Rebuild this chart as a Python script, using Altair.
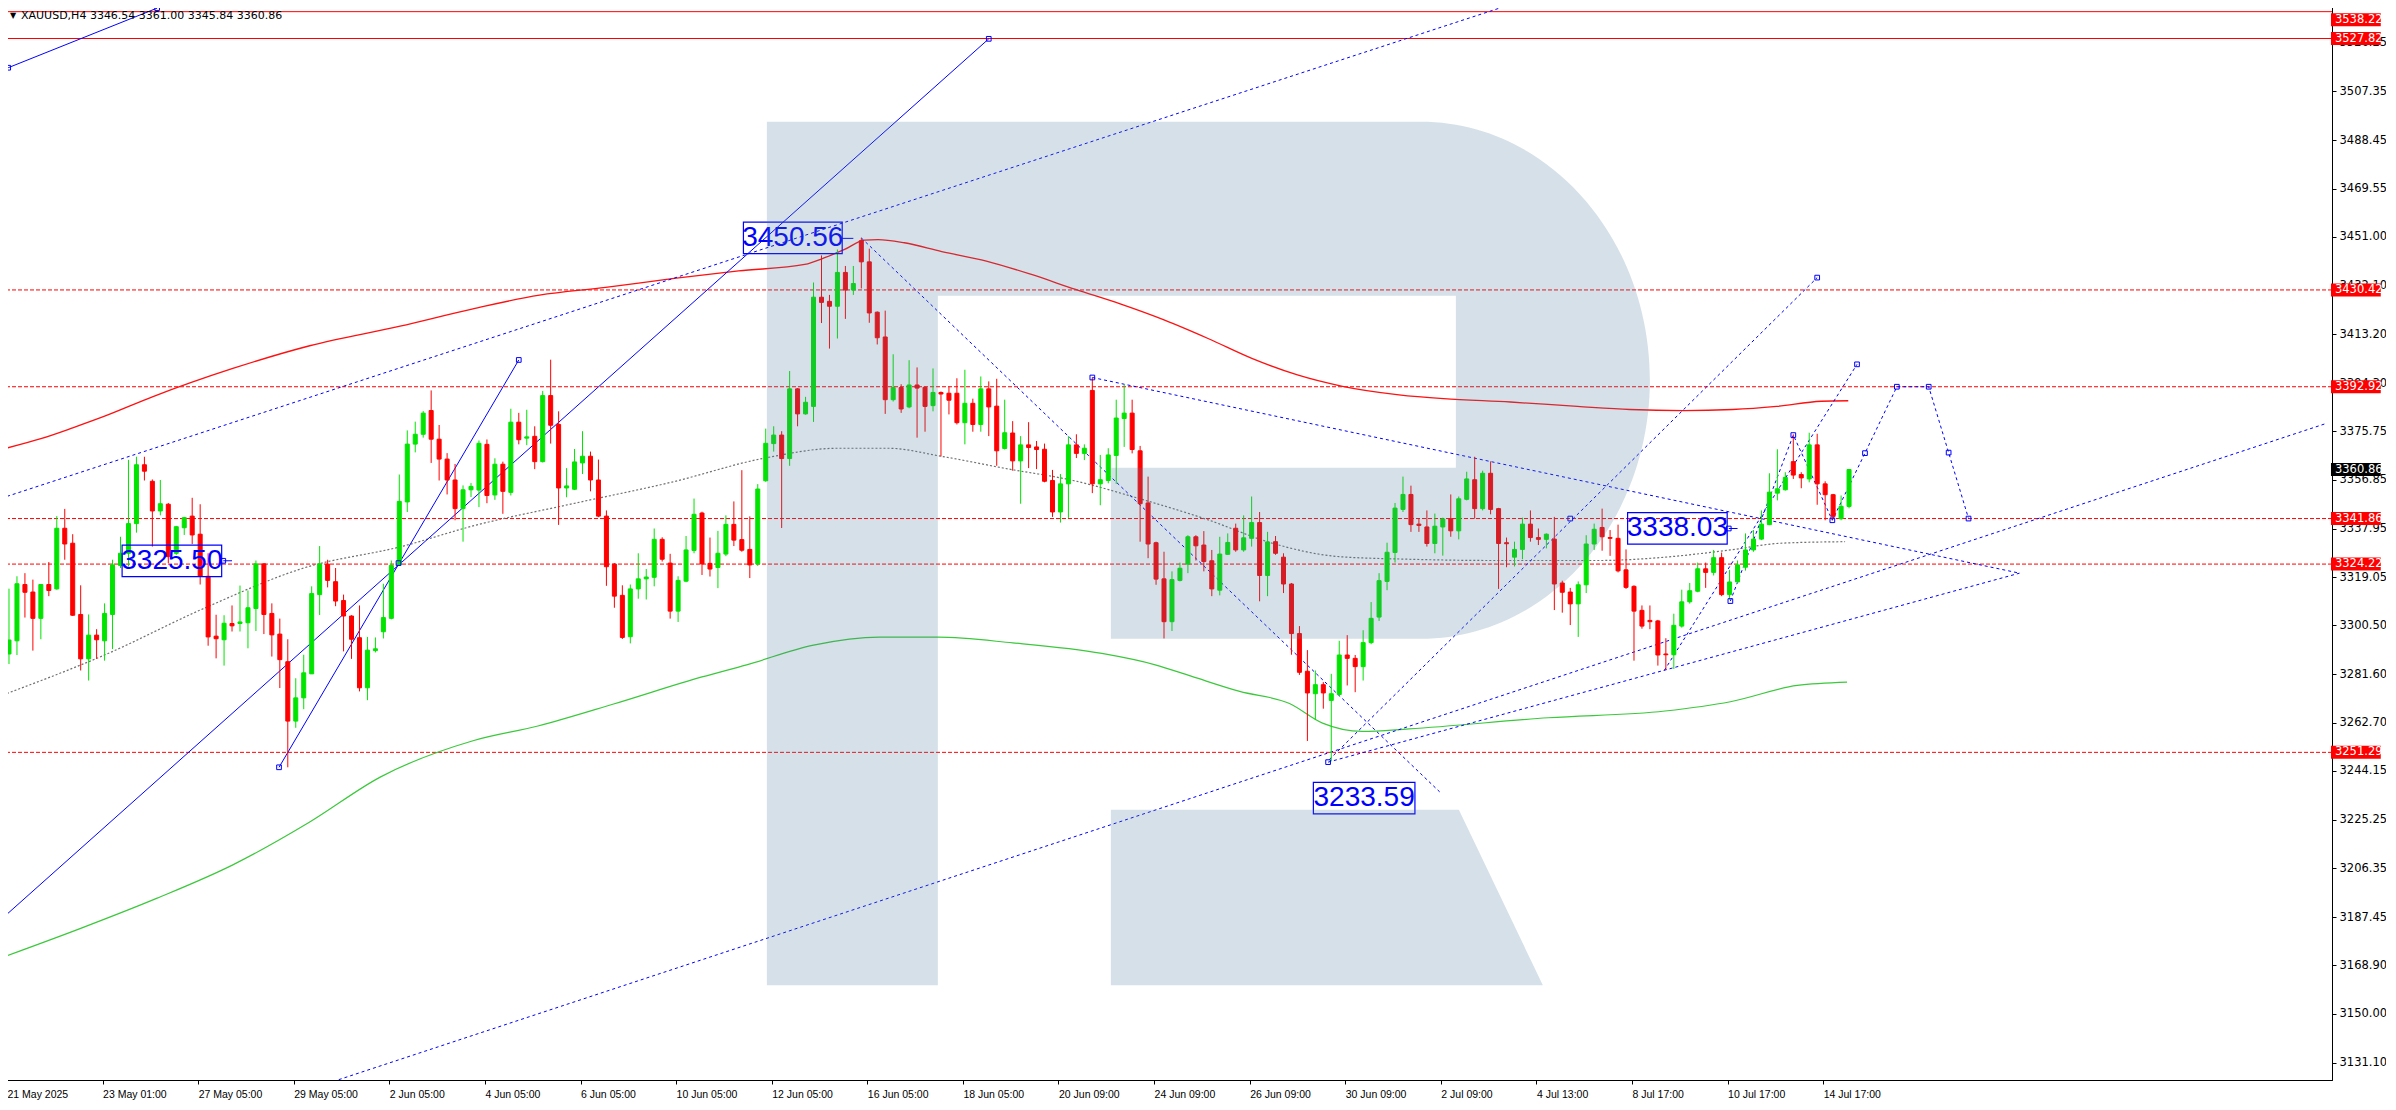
import altair as alt
import pandas as pd

# ---------------- candles: XAUUSD H4 ----------------
opens = [3289.4, 3294.5, 3316.3, 3313.4, 3303.2, 3316.3, 3314.6, 3338.1, 3332.3, 3304.7,
         3287.5, 3296.7, 3294.5, 3304.7, 3323.7, 3328.4, 3339.9, 3362.7, 3356.3, 3344.8,
         3347.4, 3328.4, 3338.3, 3342.8, 3335.8, 3319.5, 3296.3, 3294.9, 3301.2, 3301.2,
         3301.5, 3307.0, 3324.3, 3305.1, 3297.1, 3286.4, 3263.4, 3272.4, 3281.7, 3312.4,
         3324.2, 3317.4, 3310.1, 3304.1, 3295.7, 3276.3, 3290.7, 3298.0, 3303.2, 3323.9,
         3348.3, 3370.7, 3374.5, 3383.7, 3372.6, 3364.9, 3356.8, 3345.7, 3353.0, 3352.9,
         3370.6, 3351.0, 3362.9, 3352.0, 3379.2, 3373.0, 3373.7, 3363.9, 3389.5, 3378.3,
         3353.7, 3353.2, 3363.4, 3366.0, 3356.8, 3342.8, 3324.2, 3312.1, 3296.1, 3314.6,
         3318.5, 3319.1, 3333.8, 3324.6, 3306.0, 3317.6, 3329.5, 3344.0, 3324.5, 3322.9,
         3328.1, 3339.6, 3333.7, 3329.9, 3324.3, 3356.5, 3370.9, 3374.2, 3365.1, 3392.1,
         3382.4, 3385.3, 3427.6, 3426.0, 3424.1, 3437.2, 3430.4, 3449.5, 3441.3, 3421.8,
         3412.2, 3387.9, 3392.6, 3385.1, 3393.6, 3392.7, 3385.6, 3390.7, 3390.4, 3390.4,
         3379.0, 3386.5, 3378.3, 3392.1, 3385.4, 3369.0, 3375.0, 3364.2, 3370.4, 3369.6,
         3368.7, 3356.6, 3344.4, 3355.3, 3370.4, 3367.1, 3391.5, 3355.3, 3356.6, 3366.3,
         3380.6, 3382.7, 3368.1, 3347.9, 3332.5, 3318.5, 3301.9, 3317.9, 3324.2, 3334.8,
         3331.6, 3325.5, 3314.1, 3328.0, 3338.1, 3329.7, 3334.2, 3340.3, 3319.8, 3332.9,
         3326.9, 3316.5, 3297.3, 3282.7, 3274.0, 3277.5, 3271.4, 3273.7, 3289.0, 3287.7,
         3284.5, 3293.8, 3303.7, 3317.5, 3328.7, 3345.4, 3351.2, 3339.7, 3338.6, 3332.2,
         3338.6, 3341.8, 3337.1, 3349.3, 3356.9, 3345.7, 3359.4, 3345.7, 3332.5, 3326.9,
         3329.9, 3339.7, 3334.5, 3333.8, 3333.9, 3316.9, 3313.4, 3308.8, 3316.2, 3332.0,
         3338.4, 3334.5, 3334.2, 3322.0, 3315.6, 3306.3, 3302.4, 3302.2, 3289.4, 3289.1,
         3300.2, 3309.6, 3313.7, 3322.4, 3321.0, 3326.7, 3312.4, 3317.3, 3323.0, 3329.7,
         3333.9, 3339.5, 3351.7, 3353.0, 3363.9, 3358.9, 3357.2, 3370.4, 3355.3, 3351.1,
         3341.8, 3346.54]
highs = [3314.7, 3319.5, 3320.7, 3318.2, 3316.5, 3325.0, 3342.8, 3345.6, 3335.8, 3316.0,
         3304.7, 3299.0, 3309.0, 3325.9, 3334.8, 3364.6, 3365.8, 3365.8, 3357.0, 3356.8,
         3347.9, 3339.0, 3342.5, 3349.9, 3347.4, 3328.4, 3304.6, 3304.4, 3308.2, 3315.9,
         3314.0, 3325.6, 3324.6, 3309.0, 3303.1, 3295.1, 3280.0, 3289.1, 3315.6, 3331.2,
         3325.9, 3322.7, 3312.4, 3304.4, 3308.2, 3296.0, 3295.8, 3316.6, 3325.6, 3358.9,
         3376.0, 3379.4, 3383.5, 3391.5, 3378.1, 3367.2, 3363.0, 3354.7, 3355.6, 3372.1,
         3372.5, 3365.2, 3363.9, 3384.4, 3382.8, 3384.0, 3377.6, 3391.3, 3403.4, 3383.4,
         3361.4, 3368.8, 3375.7, 3367.8, 3364.7, 3345.0, 3324.6, 3316.0, 3316.3, 3328.4,
         3322.3, 3338.0, 3334.6, 3328.2, 3319.5, 3335.1, 3349.6, 3344.5, 3334.5, 3337.1,
         3343.1, 3348.5, 3360.6, 3342.7, 3355.2, 3376.7, 3377.6, 3375.7, 3399.0, 3392.4,
         3389.0, 3433.3, 3443.8, 3428.5, 3446.1, 3439.7, 3439.7, 3450.6, 3446.4, 3422.1,
         3422.4, 3405.5, 3393.9, 3403.2, 3400.4, 3393.0, 3400.0, 3391.1, 3393.0, 3396.2,
         3399.5, 3388.3, 3396.9, 3395.0, 3396.0, 3387.9, 3379.6, 3373.8, 3379.2, 3371.9,
         3370.9, 3360.7, 3359.1, 3373.8, 3374.5, 3370.6, 3396.5, 3366.5, 3369.1, 3387.9,
         3393.7, 3387.9, 3370.0, 3358.1, 3332.9, 3329.0, 3321.4, 3324.8, 3335.4, 3335.4,
         3337.0, 3329.7, 3334.8, 3336.1, 3339.9, 3343.1, 3350.4, 3344.4, 3336.7, 3335.1,
         3328.4, 3316.9, 3300.2, 3290.9, 3283.0, 3278.5, 3281.7, 3294.5, 3296.7, 3289.0,
         3298.6, 3309.5, 3320.7, 3332.5, 3347.9, 3358.1, 3354.6, 3341.8, 3345.0, 3343.8,
         3342.2, 3351.2, 3350.4, 3360.0, 3365.8, 3360.4, 3364.0, 3346.0, 3334.5, 3332.9,
         3342.2, 3345.0, 3338.0, 3336.1, 3342.5, 3317.8, 3315.0, 3317.5, 3335.4, 3339.9,
         3345.7, 3337.4, 3339.5, 3329.9, 3316.0, 3308.2, 3308.2, 3302.6, 3295.5, 3305.0,
         3314.3, 3316.9, 3324.8, 3324.8, 3329.7, 3328.7, 3322.0, 3325.6, 3336.1, 3337.4,
         3345.0, 3359.4, 3368.7, 3359.8, 3374.5, 3359.8, 3375.1, 3374.7, 3356.3, 3351.4,
         3350.8, 3361.00]
lows = [3285.5, 3289.0, 3303.5, 3290.7, 3295.1, 3311.8, 3314.3, 3325.9, 3304.1, 3283.0,
        3279.1, 3287.5, 3286.8, 3291.3, 3322.7, 3323.3, 3336.4, 3356.6, 3331.0, 3343.1,
        3324.6, 3327.8, 3335.5, 3332.0, 3316.3, 3292.6, 3287.7, 3284.9, 3298.1, 3298.1,
        3291.6, 3298.3, 3297.1, 3288.4, 3276.2, 3245.5, 3260.8, 3268.0, 3281.7, 3304.5,
        3315.2, 3307.9, 3290.4, 3287.5, 3274.9, 3271.5, 3290.0, 3295.4, 3302.8, 3323.7,
        3344.4, 3367.5, 3373.2, 3363.4, 3356.6, 3351.2, 3341.2, 3332.9, 3350.2, 3346.3,
        3347.8, 3349.1, 3343.7, 3350.8, 3370.6, 3370.3, 3361.0, 3363.6, 3370.9, 3339.4,
        3350.1, 3352.9, 3359.1, 3352.4, 3342.4, 3315.8, 3307.3, 3295.2, 3293.5, 3310.8,
        3310.5, 3315.6, 3325.2, 3303.1, 3301.8, 3317.2, 3328.4, 3320.0, 3319.4, 3314.9,
        3327.3, 3331.2, 3329.0, 3318.8, 3323.5, 3356.1, 3367.8, 3338.2, 3362.3, 3377.6,
        3382.1, 3379.3, 3417.6, 3407.7, 3411.6, 3419.2, 3428.5, 3431.0, 3417.7, 3409.3,
        3382.4, 3387.2, 3382.8, 3384.6, 3373.2, 3375.5, 3383.4, 3365.9, 3382.2, 3378.3,
        3370.6, 3375.5, 3375.5, 3373.8, 3362.3, 3368.6, 3360.4, 3347.6, 3361.4, 3361.0,
        3355.9, 3342.5, 3340.3, 3342.1, 3365.3, 3364.5, 3351.7, 3347.0, 3355.5, 3355.3,
        3369.6, 3367.1, 3332.9, 3326.5, 3316.2, 3295.4, 3298.3, 3317.5, 3320.7, 3325.6,
        3321.4, 3311.8, 3312.1, 3327.8, 3329.0, 3329.0, 3331.0, 3309.8, 3311.8, 3327.8,
        3313.0, 3289.1, 3281.3, 3255.7, 3263.8, 3268.2, 3247.8, 3273.3, 3277.2, 3274.6,
        3279.1, 3293.2, 3302.2, 3314.1, 3324.8, 3344.4, 3336.7, 3336.7, 3331.0, 3328.4,
        3327.5, 3334.8, 3333.8, 3348.9, 3341.8, 3345.0, 3343.5, 3314.6, 3323.0, 3323.3,
        3326.1, 3332.9, 3331.6, 3330.3, 3306.4, 3305.4, 3300.6, 3296.0, 3313.0, 3329.7,
        3329.4, 3327.4, 3321.0, 3314.6, 3286.8, 3299.2, 3299.0, 3284.9, 3283.3, 3283.6,
        3299.6, 3308.9, 3313.3, 3315.0, 3319.8, 3311.8, 3310.5, 3316.9, 3321.7, 3329.0,
        3333.5, 3339.3, 3348.9, 3352.7, 3357.2, 3353.6, 3355.9, 3347.2, 3341.2, 3341.8,
        3341.2, 3345.84]
closes = [3294.8, 3316.6, 3313.3, 3303.2, 3316.3, 3314.0, 3338.1, 3332.0, 3304.4, 3287.5,
          3296.7, 3294.9, 3305.1, 3323.9, 3328.4, 3339.9, 3362.7, 3360.2, 3344.8, 3347.6,
          3327.1, 3338.7, 3342.2, 3335.5, 3319.5, 3296.0, 3295.3, 3301.3, 3300.3, 3301.8,
          3307.3, 3324.3, 3304.7, 3296.8, 3287.2, 3263.4, 3272.4, 3282.1, 3312.8, 3324.2,
          3317.9, 3309.9, 3304.1, 3295.1, 3276.3, 3290.9, 3291.4, 3303.5, 3323.7, 3348.5,
          3370.7, 3374.5, 3382.7, 3372.6, 3364.9, 3356.8, 3345.7, 3353.0, 3354.3, 3371.0,
          3350.8, 3362.9, 3352.4, 3379.2, 3372.4, 3373.5, 3363.9, 3389.5, 3378.0, 3353.7,
          3354.5, 3363.8, 3366.0, 3356.8, 3342.8, 3323.2, 3311.8, 3295.8, 3314.6, 3318.5,
          3319.2, 3333.8, 3326.1, 3306.0, 3317.9, 3329.7, 3343.5, 3324.3, 3322.3, 3328.4,
          3339.6, 3333.5, 3329.6, 3323.9, 3353.3, 3371.0, 3374.2, 3365.1, 3392.1, 3382.4,
          3386.9, 3427.6, 3425.6, 3424.1, 3437.2, 3430.4, 3432.9, 3441.3, 3421.5, 3411.9,
          3387.9, 3392.6, 3384.3, 3393.6, 3392.4, 3385.3, 3390.7, 3390.1, 3387.7, 3379.0,
          3386.5, 3378.3, 3392.1, 3385.1, 3368.1, 3375.1, 3364.2, 3370.4, 3369.4, 3368.6,
          3356.3, 3344.4, 3355.3, 3370.4, 3367.1, 3369.1, 3355.3, 3356.9, 3366.5, 3380.8,
          3382.7, 3368.6, 3347.6, 3332.0, 3318.4, 3301.9, 3318.2, 3322.6, 3334.8, 3331.3,
          3325.2, 3314.6, 3328.1, 3332.6, 3329.7, 3334.4, 3340.3, 3319.8, 3332.8, 3328.4,
          3316.5, 3297.3, 3282.3, 3274.3, 3277.5, 3274.3, 3274.0, 3289.0, 3287.7, 3284.5,
          3293.8, 3303.2, 3317.8, 3328.8, 3345.9, 3351.2, 3339.5, 3339.2, 3332.2, 3338.9,
          3341.7, 3337.1, 3349.5, 3357.2, 3345.7, 3359.4, 3345.4, 3332.2, 3332.1, 3329.9,
          3339.7, 3334.5, 3333.8, 3335.8, 3316.5, 3313.3, 3308.8, 3316.2, 3332.0, 3337.7,
          3334.8, 3334.2, 3321.6, 3315.2, 3306.0, 3300.2, 3301.9, 3289.0, 3289.1, 3300.5,
          3309.6, 3313.9, 3322.4, 3321.0, 3326.7, 3312.4, 3317.3, 3323.9, 3329.7, 3333.9,
          3339.7, 3352.1, 3353.4, 3357.8, 3358.7, 3357.6, 3370.4, 3355.3, 3351.1, 3342.7,
          3346.6, 3360.86]

# ---------------- axes ----------------
x_labels = ["21 May 2025", "23 May 01:00", "27 May 05:00", "29 May 05:00", "2 Jun 05:00",
            "4 Jun 05:00", "6 Jun 05:00", "10 Jun 05:00", "12 Jun 05:00", "16 Jun 05:00",
            "18 Jun 05:00", "20 Jun 09:00", "24 Jun 09:00", "26 Jun 09:00", "30 Jun 09:00",
            "2 Jul 09:00", "4 Jul 13:00", "8 Jul 17:00", "10 Jul 17:00", "14 Jul 17:00"]
x_label_bars = [0, 12, 24, 36, 48, 60, 72, 84, 96, 108, 120, 132, 144, 156, 168, 180, 192, 204, 216, 228]
y_ticks = [3131.10, 3150.00, 3168.90, 3187.45, 3206.35, 3225.25, 3244.15, 3262.70, 3281.60,
           3300.50, 3319.05, 3337.95, 3356.85, 3375.75, 3394.30, 3413.20, 3432.10, 3451.00,
           3469.55, 3488.45, 3507.35, 3526.25]

# ---------------- moving averages (bar index, price) ----------------
ma_red_i = [-0.25, 4.0, 8.0, 12.0, 18.0, 28.1, 37.75, 49.1, 58.25, 66.6, 74.9, 83.25, 91.6, 99.9,
            102.4, 104.9, 107.4, 109.1, 112.4, 117.1, 122.7, 128.25, 133.9, 139.5, 145, 150.6,
            156.1, 161.75, 167.4, 174.5, 180.1, 188.5, 196.9, 203.5, 210.2, 216.4, 221.9, 227.5, 230.9]
ma_red_p = [3369.2, 3372.8, 3377.0, 3381.5, 3389.0, 3400.0, 3408.8, 3416.4, 3423.1, 3428.4, 3431.4,
            3434.8, 3437.8, 3440.3, 3442.9, 3446.1, 3449.7, 3449.9, 3448.7, 3445.3, 3441.6, 3436.5,
            3430.6, 3425.0, 3418.8, 3411.5, 3403.8, 3397.5, 3393.1, 3389.8, 3388.3, 3387.0, 3385.3,
            3384.1, 3383.7, 3384.1, 3385.3, 3387.3, 3387.5]
ma_gray_i = [-0.25, 12, 24.5, 37, 49.5, 58.25, 70.75, 83.25, 94.9, 104.1, 110.4, 117, 125.4, 133.6,
             142, 150.4, 158.6, 167, 175.75, 187, 199.5, 207.9, 216.1, 222.4, 230.5]
ma_gray_p = [3274.1, 3289.0, 3307.1, 3322.7, 3331.2, 3339.0, 3347.6, 3356.0, 3365.3, 3369.1, 3369.1,
             3366.0, 3361.1, 3356.6, 3349.5, 3341.5, 3332.3, 3327.1, 3326.1, 3325.6, 3325.6, 3326.9,
             3329.7, 3332.3, 3332.9]
ma_green_i = [-0.25, 9, 18.6, 28.1, 37.7, 46.6, 58.25, 66.4, 75.9, 87, 92.6, 101, 109.3, 116.6, 126,
              137.2, 143.9, 148.4, 154.5, 160.75, 164.9, 169.9, 175.75, 193.25, 207.9, 216.1, 224.5, 230.75]
ma_green_p = [3172.5, 3183.1, 3194.8, 3207.7, 3224.2, 3241.7, 3255.8, 3261.5, 3270.0, 3280.5, 3285.2,
              3292.8, 3295.9, 3295.9, 3293.7, 3289.6, 3285.2, 3280.8, 3274.9, 3270.2, 3262.6, 3259.4,
              3260.4, 3264.7, 3267.3, 3270.9, 3277.2, 3278.5]

# ---------------- horizontal levels ----------------
solid_levels = [3538.22, 3527.82]
dotted_levels = [3430.42, 3392.92, 3341.86, 3324.22, 3251.29]
top_tag = [3538.22]
level_tags = [3527.82, 3430.42, 3392.92, 3341.86, 3324.22, 3251.29]
last_price = [3360.86]

# ---------------- drawn trend lines (bar index, price) ----------------
solid_lines = {
    "a": ([-0.1, 18.6], [3516.5, 3539.6]),
    "b": ([-0.25, 123.0], [3188.6, 3527.7]),
    "c": ([33.9, 64.0], [3245.5, 3403.3]),
    "m1": ([26.9, 28.0], [3325.5, 3325.5]),
    "m2": ([104.6, 106.0], [3450.4, 3450.4]),
    "m3": ([215.9, 217.0], [3338.0, 3338.0]),
}
dotted_lines = {
    "d": ([-0.25, 190.0], [3350.45, 3542.5]),
    "e": ([107.0, 179.6], [3450.56, 3236.0]),
    "f": ([136.0, 252.4], [3396.5, 3320.7]),
    "g": ([165.6, 252.4], [3247.5, 3320.7]),
    "h": ([41.4, 291.0], [3124.5, 3378.8]),
    "k": ([165.75, 227.0], [3248.5, 3435.2]),
    "l": ([207.8, 232.0], [3283.0, 3401.6]),
    "z": ([216.1, 224.0, 228.9, 233.0, 237.0, 241.0, 243.5, 246.0],
          [3309.9, 3374.2, 3341.2, 3367.2, 3392.92, 3392.92, 3367.4, 3341.86]),
}
square_i = [-0.1, 18.6, 123.0, 48.9, 33.9, 64.0, 26.9, 215.9, 227.0, 196.0, 232.0, 136.0, 165.6,
            216.1, 224.0, 228.9, 233.0, 237.0, 241.0, 243.5, 246.0]
square_p = [3516.5, 3539.6, 3527.7, 3324.6, 3245.5, 3403.3, 3325.5, 3338.0, 3435.2, 3341.86, 3401.6,
            3396.5, 3247.5, 3309.9, 3374.2, 3341.2, 3367.2, 3392.92, 3392.92, 3367.4, 3341.86]

# price labels drawn on the chart
tag_text = ["3325.50", "3450.56", "3338.03", "3233.59"]
tag_price = [3325.50, 3450.56, 3338.03, 3233.59]
tag_i0 = [14.2, 92.2, 203.2, 163.75]
tag_i1 = [26.7, 104.6, 215.7, 176.5]

header = "XAUUSD,H4  3346.54 3361.00 3345.84 3360.86"

# ---------------- build ----------------
W, H = 2330, 1080
GREEN, RED, BLUE = "#00e400", "#ff0000", "#0000ff"
xs = alt.Scale(domain=[-0.25, 291.0], nice=False, zero=False)
ys = alt.Scale(domain=[3126.3, 3540.8], nice=False, zero=False)

label_expr = "[" + ",".join("'%s'" % s for s in x_labels) + "][round((datum.value + 0.25) / 12)]"
x_axis = alt.Axis(values=[b - 0.25 for b in x_label_bars], labelExpr=label_expr, title=None,
                  grid=False, labelAlign="left", labelFont="Liberation Sans", labelFontSize=10.5,
                  labelColor="black", tickColor="black", tickSize=4, labelPadding=5,
                  domainColor="black", labelOverlap=False, labelFlush=False, labelBound=False)
y_axis = alt.Axis(values=y_ticks, format=".2f", orient="right", title=None, grid=False,
                  labelFont="DejaVu Sans", labelFontSize=11.5, labelColor="black",
                  tickColor="black", tickSize=4, labelPadding=3, domainColor="black",
                  labelOverlap=False, labelFlush=False, labelBound=False)


def X(f):
    return alt.X(f, type="quantitative", scale=xs, axis=x_axis)


def Y(f):
    return alt.Y(f, type="quantitative", scale=ys, axis=y_axis)


candles = pd.DataFrame({"i": list(range(len(opens))), "o": opens, "h": highs, "l": lows, "c": closes})
candles["lo"] = candles[["o", "c"]].min(axis=1)
candles["hi"] = candles[["o", "c"]].max(axis=1)
candles["dir"] = ["up" if c >= o else "down" for o, c in zip(opens, closes)]
dir_scale = alt.Scale(domain=["up", "down"], range=[GREEN, RED])

wicks = alt.Chart(candles).mark_rule(strokeWidth=1, clip=True).encode(
    x=X("i"), y=Y("l"), y2="h", color=alt.Color("dir:N", scale=dir_scale, legend=None))
bodies = alt.Chart(candles).mark_bar(size=4, strokeWidth=1, orient="vertical", clip=True).encode(
    x=X("i"), y=Y("lo"), y2="hi",
    color=alt.Color("dir:N", scale=dir_scale, legend=None),
    stroke=alt.Stroke("dir:N", scale=dir_scale, legend=None))

lvl_solid = alt.Chart(pd.DataFrame({"p": solid_levels})).mark_rule(
    color=RED, strokeWidth=1, clip=True).encode(y=Y("p"))
lvl_dot = alt.Chart(pd.DataFrame({"p": dotted_levels})).mark_rule(
    color=RED, strokeWidth=1, strokeDash=[4, 2], clip=True).encode(y=Y("p"))


def ma_layer(ii, pp, **kw):
    return alt.Chart(pd.DataFrame({"i": ii, "p": pp})).mark_line(
        interpolate="monotone", clip=True, **kw).encode(x=X("i"), y=Y("p"))


ma_green = ma_layer(ma_green_i, ma_green_p, color="#3cc83c", strokeWidth=1.2)
ma_gray = ma_layer(ma_gray_i, ma_gray_p, color="#707070", strokeWidth=1.2, strokeDash=[2, 2])
ma_red = ma_layer(ma_red_i, ma_red_p, color="#ff1010", strokeWidth=1.3)


def lines_df(d):
    rows = []
    for key, (ii, pp) in d.items():
        for k, (a, b) in enumerate(zip(ii, pp)):
            rows.append({"id": key, "k": k, "i": a, "p": b})
    return pd.DataFrame(rows)


tl_solid = alt.Chart(lines_df(solid_lines)).mark_line(color=BLUE, strokeWidth=1, clip=True).encode(
    x=X("i"), y=Y("p"), detail="id:N", order="k:Q")
tl_dot = alt.Chart(lines_df(dotted_lines)).mark_line(
    color=BLUE, strokeWidth=1, strokeDash=[3, 3], clip=True).encode(
    x=X("i"), y=Y("p"), detail="id:N", order="k:Q")
squares = alt.Chart(pd.DataFrame({"i": square_i, "p": square_p})).mark_point(
    shape="square", size=22, filled=False, color=BLUE, strokeWidth=1, opacity=1, clip=True).encode(
    x=X("i"), y=Y("p"))

tags = pd.DataFrame({"t": tag_text, "p": tag_price, "i0": tag_i0, "i1": tag_i1})
tags["pm"] = (tags["i0"] + tags["i1"]) / 2
tags["p0"] = tags["p"] - 6.1
tags["p1"] = tags["p"] + 6.1
tag_box = alt.Chart(tags).mark_rect(fillOpacity=0, stroke=BLUE, strokeWidth=1.2, clip=True).encode(
    x=X("i0"), x2="i1", y=Y("p0"), y2="p1")
tag_txt = alt.Chart(tags).mark_text(font="Liberation Sans", fontSize=28, color=BLUE,
                                    baseline="middle", align="center", clip=True).encode(
    x=X("pm"), y=Y("p"), text="t:N")

# watermark "R" (semi-transparent overlay)
R_PATH = ("M -433 -438 L 221 -438 A 229 258.5 0 0 1 221 79 L -89 79 L -89 -92 L 256 -92 "
          "L 256 -264 L -262 -264 L -262 425.5 L -433 425.5 Z "
          "M -89 250 L 259 250 L 343 425.5 L -89 425.5 Z")
one = pd.DataFrame({"a": [0]})
watermark = alt.Chart(one).mark_point(shape=R_PATH, size=4, filled=True, color="#4e799c",
                                      opacity=0.23, strokeWidth=0).encode(
    x=alt.XDatum(149.5, type="quantitative", scale=xs, axis=x_axis),
    y=alt.YDatum(3325.87, type="quantitative", scale=ys, axis=y_axis))


# price tags on the right axis
def tag_layers(values, fill, dy=0):
    df = pd.DataFrame({"p": values})
    df["t"] = ["%.2f" % v for v in df["p"]]
    box = alt.Chart(df).mark_bar(size=13, orient="horizontal", color=fill, yOffset=dy).encode(
        x=alt.XDatum(291.5, type="quantitative", scale=xs, axis=x_axis),
        x2=alt.X2Datum(297.75), y=Y("p"))
    txt = alt.Chart(df).mark_text(align="left", baseline="middle", font="DejaVu Sans",
                                  fontSize=11.5, color="white", yOffset=dy).encode(
        x=alt.XDatum(292.0, type="quantitative", scale=xs, axis=x_axis), y=Y("p"), text="t:N")
    return box, txt


top_box, top_txt = tag_layers(top_tag, RED, dy=8)
lvl_box, lvl_txt = tag_layers(level_tags, RED)
last_box, last_txt = tag_layers(last_price, "#000000")

hdr_tri = alt.Chart(one).mark_text(text="▼", font="DejaVu Sans", fontSize=8, color="black",
                                   align="left", baseline="middle").encode(
    x=alt.value(8), y=alt.value(16))
hdr_txt = alt.Chart(one).mark_text(text=header, font="DejaVu Sans", fontSize=11, color="black",
                                   align="left", baseline="middle").encode(
    x=alt.value(19), y=alt.value(16))

chart = alt.layer(
    lvl_solid, lvl_dot, ma_green, ma_gray, ma_red, tl_solid, tl_dot,
    wicks, bodies, squares, tag_box, tag_txt, watermark,
    top_box, top_txt, lvl_box, lvl_txt, last_box, last_txt, hdr_tri, hdr_txt
).properties(
    width=W, height=H,
    padding={"left": -6, "top": -8, "right": 54, "bottom": 20},
    autosize=alt.AutoSizeParams(type="none"),
    background="white",
).configure_view(stroke="black", strokeWidth=1)

chart.save("out.html", embed_options={"renderer": "svg", "actions": False})
